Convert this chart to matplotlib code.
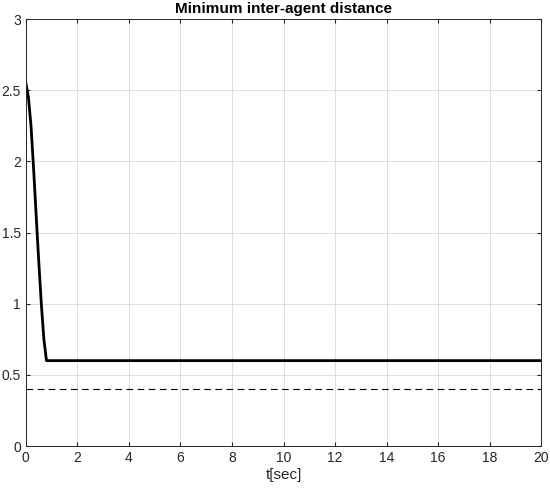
import numpy as np
import matplotlib
matplotlib.use('Agg')
import matplotlib.pyplot as plt

plt.rcParams['font.family'] = ['Liberation Sans', 'DejaVu Sans']

# minimum distance curve
t = [0.0, 0.1, 0.2, 0.3, 0.4, 0.5, 0.6, 0.7, 0.8, 1.0, 2.0, 5.0, 10.0, 15.0, 20.0]
d_min = [2.55, 2.45, 2.25, 1.95, 1.62, 1.3, 1.0, 0.75, 0.6, 0.6, 0.6, 0.6, 0.6, 0.6, 0.6]
safe_dist = 0.4

xticks = np.arange(0, 21, 2)
yticks = [0, 0.5, 1, 1.5, 2, 2.5, 3]
ytick_labels = ['0', '0.5', '1', '1.5', '2', '2.5', '3']

fig = plt.figure(figsize=(5.5, 4.88), dpi=100)
ax = fig.add_axes([0.047, 0.086, 0.937, 0.875])

ax.plot(t, d_min, color='black', lw=2)
ax.axhline(safe_dist, color='black', lw=0.8, ls=(0, (6, 4)))

ax.set_xlim(0, 20)
ax.set_ylim(0, 3)
ax.set_xticks(xticks)
ax.set_yticks(yticks)
ax.set_yticklabels(ytick_labels)
ax.grid(True, color='#dcdcdc', lw=0.7)
ax.set_axisbelow(True)
ax.tick_params(direction='in', length=3, colors='#262626', labelcolor='#262626',
               labelsize=10, top=True, right=True, labeltop=False, labelright=False)
for s in ax.spines.values():
    s.set_color('#262626')
    s.set_linewidth(0.7)

ax.set_xlabel('t[sec]', fontsize=11, color='#262626', labelpad=2)
ax.set_title('Minimum inter-agent distance', fontsize=11, fontweight='bold', pad=4)

fig.savefig('out.png', dpi=100)
